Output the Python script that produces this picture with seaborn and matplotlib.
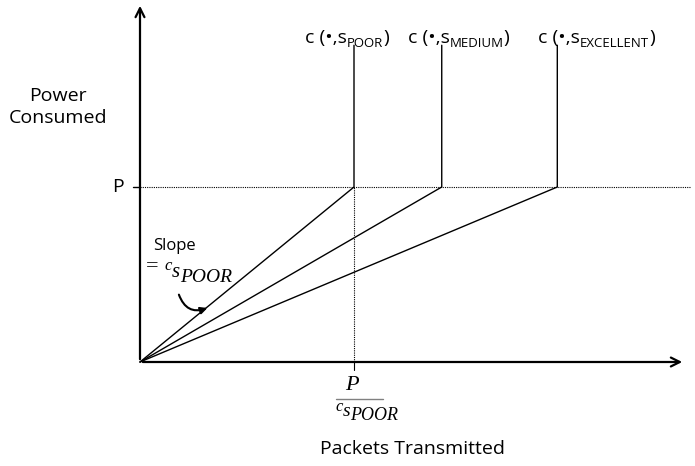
import seaborn as sns
import matplotlib.pyplot as plt
import pandas as pd

# Dati del diagramma (unità: P = 1, x di POOR = 1)
states = ['POOR', 'MEDIUM', 'EXCELLENT']
x_at_P = [1.0, 1.41, 1.95]
P = 1.0
y_top = 1.81
label_start_px = [305, 408, 538]

sns.set_theme(style='white')
plt.rcParams['font.family'] = ['Open Sans', 'DejaVu Sans']
SERIF = 'Liberation Serif'

# conversione pixel -> dati
def X(px):
    return (px - 140) / 214

def Y(py):
    return (362 - py) / 175

rows = []
for s, xp in zip(states, x_at_P):
    rows += [(s, 0.0, 0.0), (s, xp, P), (s, xp, y_top)]
df = pd.DataFrame(rows, columns=['state', 'x', 'y'])

fig = plt.figure(figsize=(6.95, 4.66), dpi=100)
ax = fig.add_axes([0, 0, 1, 1])
sns.lineplot(data=df, x='x', y='y', units='state', estimator=None, sort=False,
             color='black', linewidth=1.0, ax=ax)
ax.set_xlim(X(0), X(695))
ax.set_ylim(Y(466), Y(0))
ax.axis('off')
renderer = fig.canvas.get_renderer()


def chain(x0, parts):
    # testo composto da pezzi (testo, dimensione, linea base px, famiglia, stile)
    x = x0
    for txt, size, base, fam, style in parts:
        t = ax.text(X(x), Y(base), txt, fontsize=size, ha='left', va='baseline',
                    family=fam, style=style, color='black')
        x += t.get_window_extent(renderer).width


# assi con frecce
ax.annotate('', xy=(0, Y(3)), xytext=(0, 0),
            arrowprops=dict(arrowstyle='->', lw=1.6, color='black', mutation_scale=16))
ax.annotate('', xy=(X(685), 0), xytext=(0, 0),
            arrowprops=dict(arrowstyle='->', lw=1.6, color='black', mutation_scale=16))

# linee tratteggiate
ax.plot([0, X(690)], [P, P], color='black', lw=0.8, ls=(0, (1, 1)))
ax.plot([x_at_P[0], x_at_P[0]], [0, P], color='black', lw=0.8, ls=(0, (1, 1)))
ax.plot([x_at_P[0], x_at_P[0]], [Y(370), 0], color='black', lw=0.8)
ax.plot([X(133), 0], [P, P], color='black', lw=1.0)

# etichette in alto
sans = ['Open Sans', 'DejaVu Sans']
for s, px in zip(states, label_start_px):
    chain(px, [('c (•,s', 14, 43, sans, 'normal'),
               (s, 9.5, 47, sans, 'normal'),
               (')', 14, 43, sans, 'normal')])

ax.text(X(58), Y(107), 'Power\nConsumed', fontsize=14, ha='center', va='center',
        linespacing=1.25, color='black')
ax.text(X(118), P, 'P', fontsize=14, ha='center', va='center', color='black')
ax.text(X(412), Y(449), 'Packets Transmitted', fontsize=14, ha='center', va='center',
        color='black')

# pendenza
ax.text(X(153), Y(246), 'Slope', fontsize=12, ha='left', va='center', color='black')
chain(146, [('= ', 16, 272, SERIF, 'normal'),
            ('c', 12, 270, SERIF, 'italic'),
            ('s', 15, 277, SERIF, 'italic'),
            ('POOR', 14, 282, SERIF, 'italic')])
ax.annotate('', xy=(X(210), Y(307)), xytext=(X(178), Y(292)),
            arrowprops=dict(arrowstyle='-|>', lw=1.5, color='black',
                            connectionstyle='arc3,rad=0.55', mutation_scale=10))

# frazione sotto l'asse
ax.text(X(352), Y(385), 'P', fontsize=16, ha='center', va='center',
        family=SERIF, style='italic', color='black')
ax.plot([X(336), X(383)], [Y(399), Y(399)], color='gray', lw=1.0)
chain(335, [('c', 12, 411, SERIF, 'italic'),
            ('s', 14, 416, SERIF, 'italic'),
            ('POOR', 13, 420, SERIF, 'italic')])

plt.savefig('out.png', dpi=100)
